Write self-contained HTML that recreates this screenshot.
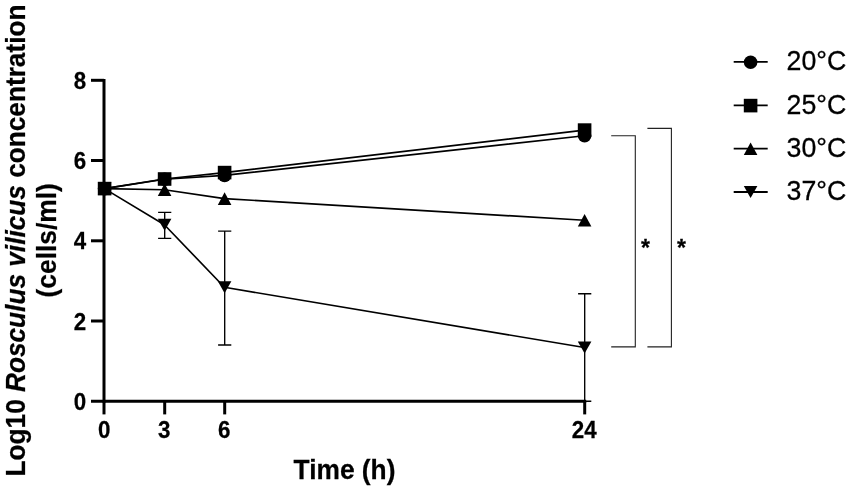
<!DOCTYPE html>
<html><head><meta charset="utf-8"><title>Figure</title>
<style>
html,body{margin:0;padding:0;background:#fff;}
svg{display:block;}
text{font-family:"Liberation Sans",Arial,sans-serif;fill:#000;}
.b{font-weight:bold;}
</style></head><body>
<svg width="851" height="491" viewBox="0 0 851 491">
<rect width="851" height="491" fill="#fff"/>
<g stroke="#000" stroke-width="3" fill="none">
<line x1="104" y1="78.9" x2="104" y2="402.7"/>
<line x1="91" y1="401.2" x2="586.2" y2="401.2"/>
<line x1="91" y1="321.0" x2="104" y2="321.0"/>
<line x1="91" y1="240.8" x2="104" y2="240.8"/>
<line x1="91" y1="160.5" x2="104" y2="160.5"/>
<line x1="91" y1="80.3" x2="104" y2="80.3"/>
<line x1="104.0" y1="401.2" x2="104.0" y2="414.4"/>
<line x1="164.7" y1="401.2" x2="164.7" y2="414.4"/>
<line x1="224.7" y1="401.2" x2="224.7" y2="414.4"/>
<line x1="584.7" y1="401.2" x2="584.7" y2="414.4"/>
</g>
<text class="b" font-size="23.53" text-anchor="end" transform="translate(86.3,409.7) scale(0.95,1)" stroke="#000" stroke-width="0.25">0</text>
<text class="b" font-size="23.53" text-anchor="end" transform="translate(86.3,329.5) scale(0.95,1)" stroke="#000" stroke-width="0.25">2</text>
<text class="b" font-size="23.53" text-anchor="end" transform="translate(86.3,249.3) scale(0.95,1)" stroke="#000" stroke-width="0.25">4</text>
<text class="b" font-size="23.53" text-anchor="end" transform="translate(86.3,169.0) scale(0.95,1)" stroke="#000" stroke-width="0.25">6</text>
<text class="b" font-size="23.53" text-anchor="end" transform="translate(86.3,88.8) scale(0.95,1)" stroke="#000" stroke-width="0.25">8</text>
<text class="b" font-size="23.53" text-anchor="middle" transform="translate(104.2,437.6) scale(0.95,1)" stroke="#000" stroke-width="0.25">0</text>
<text class="b" font-size="23.53" text-anchor="middle" transform="translate(164.2,437.6) scale(0.95,1)" stroke="#000" stroke-width="0.25">3</text>
<text class="b" font-size="23.53" text-anchor="middle" transform="translate(224.2,437.6) scale(0.95,1)" stroke="#000" stroke-width="0.25">6</text>
<text class="b" font-size="23.53" text-anchor="middle" transform="translate(584.2,437.6) scale(0.95,1)" stroke="#000" stroke-width="0.25">24</text>
<text class="b" font-size="27.75" text-anchor="middle" transform="translate(344.5,479.1) scale(0.95,1)" stroke="#000" stroke-width="0.25">Time (h)</text>
<text class="b" font-size="27.75" text-anchor="middle" transform="translate(25.4,240.5) rotate(-90) scale(0.945,1)" stroke="#000" stroke-width="0.25">Log10 <tspan font-style="italic">Rosculus vilicus</tspan> concentration</text>
<text class="b" font-size="27.75" text-anchor="middle" transform="translate(56.0,240.3) rotate(-90) scale(0.95,1)" stroke="#000" stroke-width="0.25">(cells/ml)</text>
<g stroke="#000" stroke-width="1.35" fill="none">
<path d="M158.1,212.3H171.3M164.7,212.3V238.4M158.1,238.4H171.3"/>
<path d="M218.1,231.1H231.3M224.7,231.1V345.0M218.1,345.0H231.3"/>
<path d="M578.1,293.7H591.3M584.7,293.7V401.2M578.1,401.2H591.3"/>
</g>
<g stroke="#000" stroke-width="1.65" fill="none" stroke-linejoin="round">
<polyline points="104.4,188.6 164.4,179.2 224.4,175.4 584.4,135.7"/>
<polyline points="104.4,188.6 164.4,179.0 224.4,172.6 584.4,130.1"/>
<polyline points="104.4,188.6 164.4,189.8 224.4,198.6 584.4,220.3"/>
<polyline points="104.4,188.6 164.4,224.7 224.4,287.3 584.4,347.5"/>
</g>
<g fill="#000">
<circle cx="104.6" cy="188.6" r="6.8"/>
<circle cx="164.6" cy="179.2" r="6.8"/>
<circle cx="224.6" cy="175.4" r="6.8"/>
<circle cx="584.6" cy="135.7" r="6.8"/>
<rect x="97.8" y="181.8" width="13.6" height="13.6"/>
<rect x="157.8" y="172.2" width="13.6" height="13.6"/>
<rect x="217.8" y="165.8" width="13.6" height="13.6"/>
<rect x="577.8" y="123.3" width="13.6" height="13.6"/>
<polygon points="104.6,182.3 111.4,194.9 97.8,194.9"/>
<polygon points="164.6,183.5 171.4,196.1 157.8,196.1"/>
<polygon points="224.6,192.3 231.4,204.9 217.8,204.9"/>
<polygon points="584.6,214.0 591.4,226.6 577.8,226.6"/>
<polygon points="97.8,182.6 111.4,182.6 104.6,194.6"/>
<polygon points="157.8,218.7 171.4,218.7 164.6,230.7"/>
<polygon points="217.8,281.3 231.4,281.3 224.6,293.3"/>
<polygon points="577.8,341.5 591.4,341.5 584.6,353.5"/>
</g>
<g stroke="#222" stroke-width="1.1" fill="none">
<path d="M611.2,135.7H635.3V346.9H611.2"/>
<path d="M647.4,128.4H671.4V346.9H647.4"/>
</g>
<text class="b" font-size="24.26" text-anchor="middle" transform="translate(645.5,255.8) scale(0.95,1)" stroke="#000" stroke-width="0.25">*</text>
<text class="b" font-size="24.26" text-anchor="middle" transform="translate(681.6,255.8) scale(0.95,1)" stroke="#000" stroke-width="0.25">*</text>
<line x1="733.7" y1="61.9" x2="767.7" y2="61.9" stroke="#000" stroke-width="1.8"/>
<circle cx="750.6" cy="62.2" r="6.8"/>
<text font-size="28.17" text-anchor="start" transform="translate(786.6,70.3) scale(0.95,1)" stroke="#000" stroke-width="0.3">20°C</text>
<line x1="733.7" y1="105.3" x2="767.7" y2="105.3" stroke="#000" stroke-width="1.8"/>
<rect x="743.8" y="98.8" width="13.6" height="13.6"/>
<text font-size="28.17" text-anchor="start" transform="translate(786.6,113.7) scale(0.95,1)" stroke="#000" stroke-width="0.3">25°C</text>
<line x1="733.7" y1="148.6" x2="767.7" y2="148.6" stroke="#000" stroke-width="1.8"/>
<polygon points="750.6,142.5 757.4,155.1 743.8,155.1"/>
<text font-size="28.17" text-anchor="start" transform="translate(786.6,157.0) scale(0.95,1)" stroke="#000" stroke-width="0.3">30°C</text>
<line x1="733.7" y1="192.0" x2="767.7" y2="192.0" stroke="#000" stroke-width="1.8"/>
<polygon points="743.8,186.0 757.4,186.0 750.6,198.0"/>
<text font-size="28.17" text-anchor="start" transform="translate(786.6,200.4) scale(0.95,1)" stroke="#000" stroke-width="0.3">37°C</text>
</svg></body></html>
